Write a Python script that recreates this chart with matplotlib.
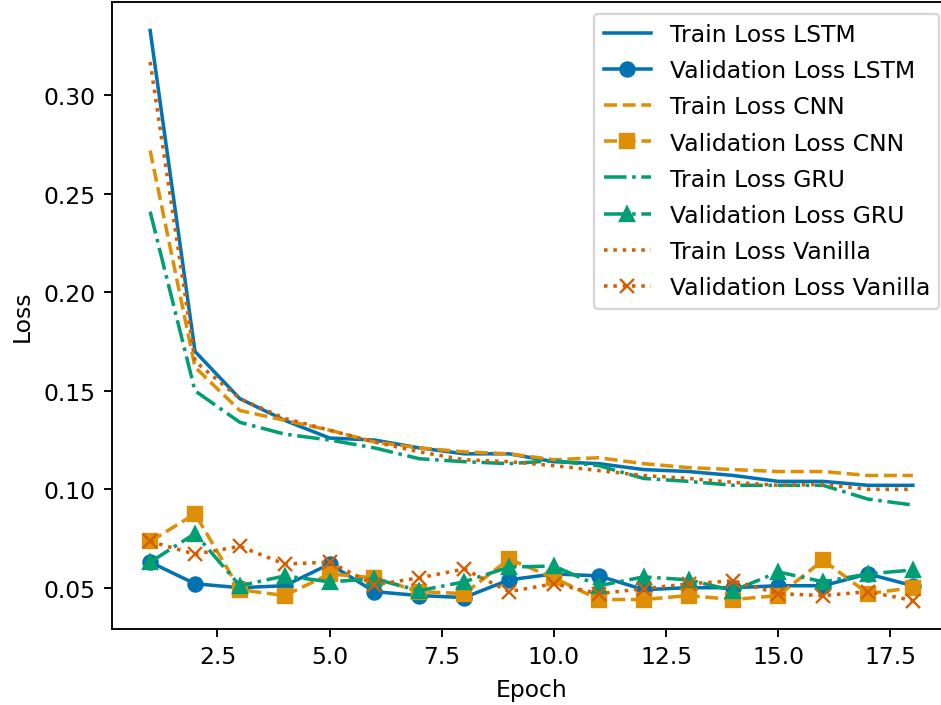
import matplotlib.pyplot as plt

# loss values per epoch
epochs = list(range(1, 19))

train_lstm = [0.333, 0.170, 0.146, 0.135, 0.126, 0.125, 0.121, 0.118, 0.118, 0.114,
              0.113, 0.110, 0.109, 0.107, 0.104, 0.104, 0.102, 0.102]
val_lstm = [0.063, 0.052, 0.050, 0.051, 0.062, 0.048, 0.046, 0.045, 0.054, 0.057,
            0.056, 0.049, 0.050, 0.050, 0.051, 0.051, 0.057, 0.051]

train_cnn = [0.272, 0.162, 0.140, 0.135, 0.130, 0.124, 0.121, 0.119, 0.118, 0.115,
             0.116, 0.113, 0.111, 0.110, 0.109, 0.109, 0.107, 0.107]
val_cnn = [0.0735, 0.0875, 0.049, 0.046, 0.057, 0.055, 0.048, 0.047, 0.0645, 0.055,
           0.044, 0.044, 0.046, 0.044, 0.046, 0.064, 0.047, 0.050]

train_gru = [0.241, 0.150, 0.134, 0.128, 0.125, 0.121, 0.1155, 0.114, 0.113, 0.1145,
             0.112, 0.1055, 0.104, 0.102, 0.102, 0.102, 0.095, 0.092]
val_gru = [0.063, 0.0775, 0.051, 0.056, 0.053, 0.0545, 0.0485, 0.053, 0.0605, 0.061,
           0.051, 0.0555, 0.054, 0.0485, 0.058, 0.053, 0.057, 0.059]

train_vanilla = [0.317, 0.165, 0.146, 0.136, 0.130, 0.124, 0.119, 0.115, 0.114, 0.112,
                 0.1095, 0.107, 0.1055, 0.1035, 0.102, 0.1025, 0.100, 0.100]
val_vanilla = [0.0735, 0.067, 0.071, 0.062, 0.063, 0.0515, 0.055, 0.0595, 0.048, 0.052,
               0.047, 0.0495, 0.052, 0.0535, 0.047, 0.046, 0.048, 0.0435]

colors = ['#0173b2', '#de8f05', '#029e73', '#d55e00']

fig = plt.figure(figsize=(942 / 169, 706 / 169), dpi=169)
# the source figure is cropped on the right, so the axes run past the edge
ax = fig.add_axes([112 / 942, 76 / 706, (951 - 112) / 942, 627 / 706])

ax.plot(epochs, train_lstm, '-', color=colors[0], label='Train Loss LSTM')
ax.plot(epochs, val_lstm, '-', marker='o', color=colors[0], label='Validation Loss LSTM')
ax.plot(epochs, train_cnn, '--', color=colors[1], label='Train Loss CNN')
ax.plot(epochs, val_cnn, '--', marker='s', color=colors[1], label='Validation Loss CNN')
ax.plot(epochs, train_gru, '-.', color=colors[2], label='Train Loss GRU')
ax.plot(epochs, val_gru, '-.', marker='^', color=colors[2], label='Validation Loss GRU')
ax.plot(epochs, train_vanilla, ':', color=colors[3], label='Train Loss Vanilla')
ax.plot(epochs, val_vanilla, ':', marker='x', color=colors[3], label='Validation Loss Vanilla')

ax.spines['right'].set_visible(False)
ax.set_xlabel('Epoch')
ax.set_ylabel('Loss')
ax.legend(loc='upper right', labelspacing=0.56)

fig.savefig('out.png', dpi=169)
